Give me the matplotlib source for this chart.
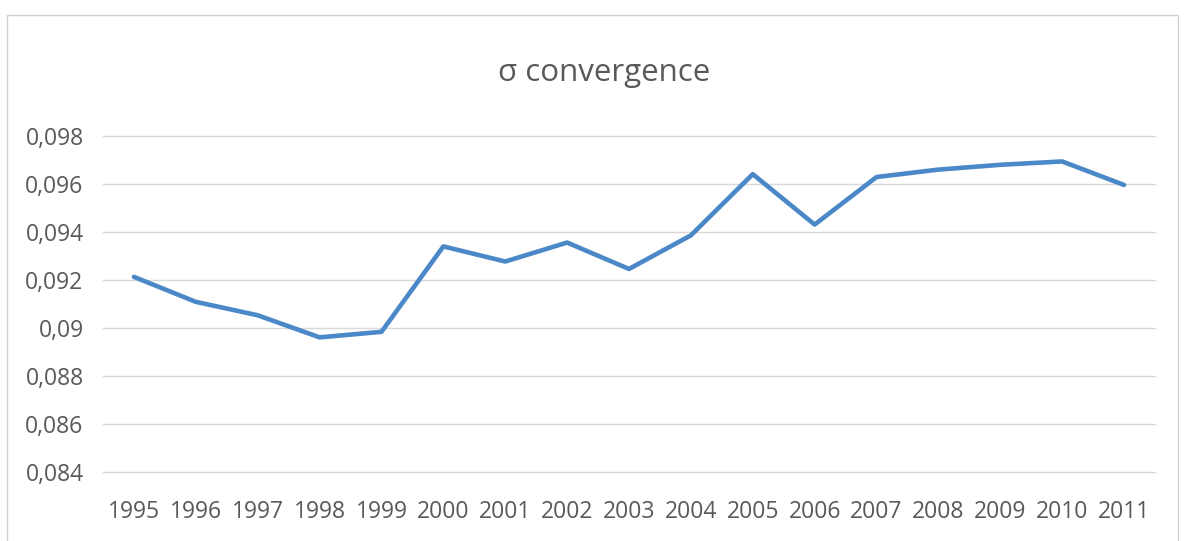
import matplotlib
matplotlib.use("Agg")
import matplotlib.pyplot as plt
from matplotlib.patches import Rectangle
from matplotlib.ticker import FixedLocator, FixedFormatter

years = ["1995", "1996", "1997", "1998", "1999", "2000", "2001", "2002", "2003",
         "2004", "2005", "2006", "2007", "2008", "2009", "2010", "2011"]
sigma = [0.09213, 0.09109, 0.09053, 0.08961, 0.08984, 0.09340, 0.09277, 0.09356,
         0.09246, 0.09386, 0.09641, 0.09431, 0.09629, 0.09660, 0.09680, 0.09694, 0.09596]
yticks = [0.084, 0.086, 0.088, 0.090, 0.092, 0.094, 0.096, 0.098]
ytick_labels = ["0,084", "0,086", "0,088", "0,09", "0,092", "0,094", "0,096", "0,098"]
title = "σ convergence"

plt.rcParams['font.family'] = ['Open Sans', 'DejaVu Sans']
W, H = 1187, 541
fig = plt.figure(figsize=(W / 100, H / 100), dpi=100)
fig.patch.set_facecolor("white")

# outer chart frame
fig.patches.append(Rectangle((7 / W, -0.01), (1178 - 7) / W, 1 - 15 / H + 0.01,
                             transform=fig.transFigure, fill=False,
                             edgecolor="#d0d0d0", linewidth=1.0))

left, right = 103 / W, 1155 / W
bottom, top = (H - 472) / H, (H - 136) / H
ax = fig.add_axes([left, bottom, right - left, top - bottom])

x = list(range(len(years)))
ax.plot(x, sigma, color="#4a88c8", linewidth=3.3, solid_joinstyle="round",
        solid_capstyle="round", zorder=3)

ax.set_xlim(-0.5, len(years) - 0.5)
ax.set_ylim(0.084, 0.098)
ax.yaxis.set_major_locator(FixedLocator(yticks))
ax.yaxis.set_major_formatter(FixedFormatter(ytick_labels))
ax.set_xticks(x)
ax.set_xticklabels(years)

ax.grid(axis="y", color="#d9d9d9", linewidth=1.0)
for gl in ax.get_ygridlines():
    gl.set_clip_on(False)
ax.set_axisbelow(True)
for s in ax.spines.values():
    s.set_visible(False)
ax.tick_params(axis="both", length=0, labelsize=16.5, colors="#595959")
ax.tick_params(axis="y", pad=14)
ax.tick_params(axis="x", pad=20)

fig.text(604 / W, 1 - 73 / H, title, ha="center", va="center",
         fontsize=22.5, color="#595959")

fig.savefig("out.png", dpi=100, facecolor="white")
